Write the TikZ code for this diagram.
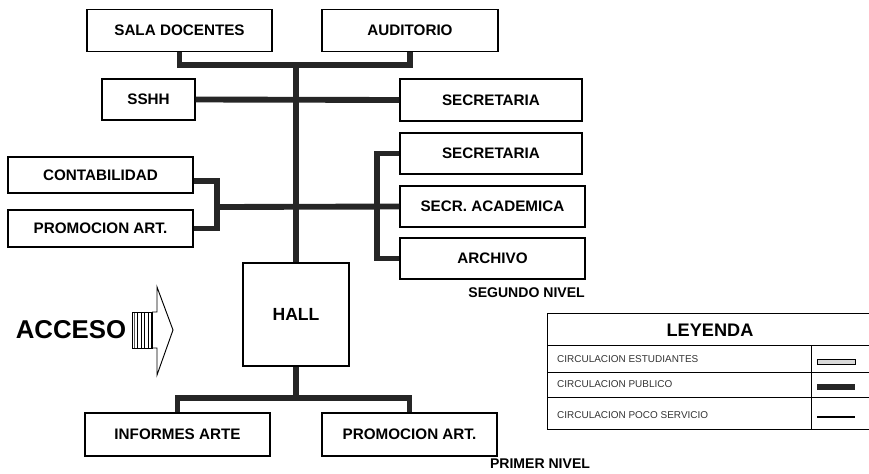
\documentclass[tikz,border=0pt]{standalone}
\usepackage{fontspec}
\setmainfont{Liberation Sans}
\usetikzlibrary{patterns}

\begin{document}
\begin{tikzpicture}[x=0.03cm, y=-0.03cm,
  room/.style={draw, line width=0.9pt, inner sep=0pt, minimum height=1.26cm, font=\fontsize{13}{15}\selectfont\bfseries},
  pub/.style={line width=5pt, black!85},
  nivel/.style={inner sep=0pt, font=\fontsize{12}{14}\selectfont\bfseries},
  ley/.style={anchor=west, inner sep=0pt, text=black!80, font=\fontsize{8.5}{10}\selectfont}]

\useasboundingbox (0,0) rectangle (869,473);

% segundo nivel
\node[room, minimum width=5.55cm] (sala) at (179.5,30.5) {SALA DOCENTES};
\node[room, minimum width=5.28cm] (audit) at (410,30.5) {AUDITORIO};
\node[room, minimum width=2.79cm, minimum height=1.23cm] (sshh) at (148.5,99.5) {SSHH};
\node[room, minimum width=5.46cm] (secre) at (491,100) {SECRETARIA};
\node[room, minimum width=5.46cm, minimum height=1.23cm] (secreb) at (491,153.5) {SECRETARIA};
\node[room, minimum width=5.55cm, minimum height=1.08cm] (contab) at (100.5,175) {CONTABILIDAD};
\node[room, minimum width=5.55cm, minimum height=1.11cm] (promo) at (100.5,228.5) {PROMOCION ART.};
\node[room, minimum width=5.55cm, minimum height=1.23cm] (sacad) at (492.5,206.5) {SECR. ACADEMICA};
\node[room, minimum width=5.55cm, minimum height=1.23cm] (archivo) at (492.5,258.5) {ARCHIVO};
\node[nivel, anchor=east] (nivel2) at (585,293) {SEGUNDO NIVEL};

% primer nivel
\node[room, minimum width=3.18cm, minimum height=3.09cm, font=\fontsize{15}{17}\selectfont\bfseries] (hall) at (296,314.5) {HALL};
\node[room, minimum width=5.55cm, minimum height=1.29cm] (informes) at (177.5,434.5) {INFORMES ARTE};
\node[room, minimum width=5.25cm, minimum height=1.29cm] (promob) at (409.5,434.5) {PROMOCION ART.};
\node[nivel] (nivel1) at (540,464) {PRIMER NIVEL};

\coordinate (topbus) at (296,65);
\coordinate (lbr) at (217,207);
\coordinate (rbr) at (377,207);
\coordinate (botbus) at (296,398);

\draw[pub] (sala.south) |- (topbus) -| (audit.south);
\draw[pub] (topbus) -- (hall.north);
\draw[pub] (sshh.east) -- (secre.west);
\draw[pub] ([yshift=-0.18cm]contab.east) -| (lbr) |- (promo.east);
\draw[pub] (lbr) -- (sacad.west);
\draw[pub] (secreb.west) -| (rbr) |- (archivo.west);
\draw[pub] (hall.south) -- (botbus);
\draw[pub] (informes.north) |- (botbus) -| (promob.north);

% acceso
\node[inner sep=0pt, font=\fontsize{22}{24}\selectfont\bfseries] (acceso) at (71,330) {ACCESO};
\draw[line width=0.8pt, pattern=vertical lines] (132,312) rectangle (152,348);
\draw[line width=0.8pt] (152,312) -- (157,312) -- (157,287) -- (173,330) -- (157,375) -- (157,348) -- (152,348);

% leyenda
\draw[line width=0.8pt] (869,313) -- (547,313) -- (547,429) -- (869,429);
\draw[line width=0.8pt] (547,345) -- (869,345) (547,372) -- (869,372) (547,397) -- (869,397);
\draw[line width=0.8pt] (811,345) -- (811,429);
\node[inner sep=0pt, font=\fontsize{15.5}{17}\selectfont\bfseries] (leyenda) at (710,330) {LEYENDA};
\node[ley] (est) at (557,359) {CIRCULACION ESTUDIANTES};
\node[ley] (pub) at (557,384) {CIRCULACION PUBLICO};
\node[ley] (serv) at (557,415) {CIRCULACION POCO SERVICIO};
\draw[line width=0.7pt, fill=black!15] (817,359.5) rectangle (855,364.5);
\draw[line width=5pt, black!85] (817,387) -- (855,387);
\draw[line width=1.3pt] (817,417) -- (855,417);
\end{tikzpicture}
\end{document}
